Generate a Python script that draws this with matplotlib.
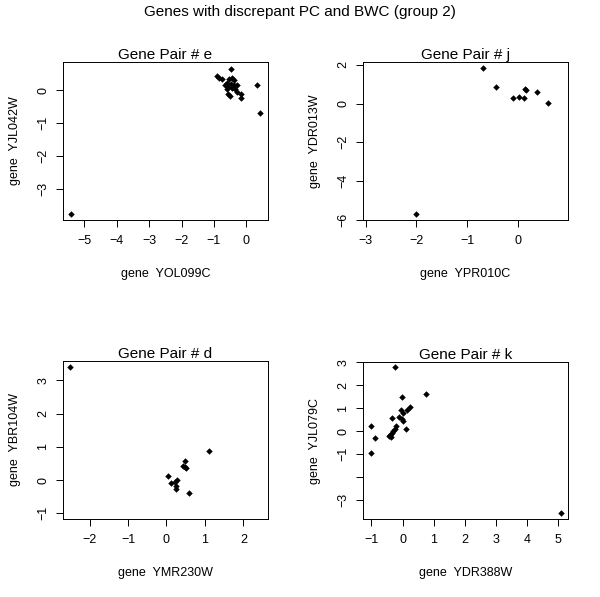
import matplotlib
matplotlib.use("Agg")
import matplotlib.pyplot as plt

plt.rcParams['font.family'] = ['Liberation Sans', 'DejaVu Sans']

# panel e : YOL099C vs YJL042W
e_x = [-5.42, -0.47, -0.89, -0.83, -0.76, -0.52, -0.44, -0.39, -0.60, -0.47, -0.39, -0.65,
       -0.55, -0.44, -0.34, -0.60, -0.58, -0.50, -0.16, -0.16, 0.33, 0.43, -0.29, -0.30]
e_y = [-3.76, 0.66, 0.43, 0.37, 0.33, 0.35, 0.37, 0.30, 0.23, 0.20, 0.17, 0.15,
       0.10, 0.08, 0.05, 0.03, -0.10, -0.17, -0.10, -0.23, 0.17, -0.68, -0.05, 0.15]

# panel j : YPR010C vs YDR013W
j_x = [-2.00, -0.68, -0.43, -0.10, 0.02, 0.13, 0.14, 0.16, 0.38, 0.59]
j_y = [-5.71, 1.85, 0.86, 0.28, 0.33, 0.28, 0.76, 0.70, 0.59, 0.02]

# panel d : YMR230W vs YBR104W
d_x = [-2.51, 1.11, 0.48, 0.43, 0.47, 0.52, 0.05, 0.13, 0.21, 0.28, 0.24, 0.24, 0.59]
d_y = [3.41, 0.87, 0.56, 0.43, 0.40, 0.35, 0.13, -0.09, -0.07, 0.01, -0.17, -0.27, -0.39]

# panel k : YDR388W vs YJL079C
k_x = [5.08, -0.23, 0.75, -0.03, -1.02, -1.02, -0.88, -0.34, -0.04, 0.25, 0.14, 0.03,
       -0.10, -0.02, 0.03, 0.11, -0.20, -0.23, -0.29, -0.34, -0.40, -0.44, -0.37]
k_y = [-3.58, 2.78, 1.62, 1.49, 0.23, -0.96, -0.29, 0.58, 0.94, 1.04, 0.93, 0.78,
       0.61, 0.54, 0.44, 0.10, 0.20, 0.10, 0.00, -0.09, -0.17, -0.23, -0.26]

panels = [
    dict(letter='e', gx='YOL099C', gy='YJL042W', x=e_x, y=e_y,
         xt=[-5, -4, -3, -2, -1, 0], yt=[0, -1, -2, -3], ytl=None,
         xlim=(-5.66, 0.67), ylim=(-3.94, 0.86),
         pos=[63, 62, 268, 220]),
    dict(letter='j', gx='YPR010C', gy='YDR013W', x=j_x, y=j_y,
         xt=[-3, -2, -1, 0], yt=[2, 0, -2, -4, -6], ytl=None,
         xlim=(-3.05, 0.99), ylim=(-6.02, 2.15),
         pos=[363, 62, 568, 220]),
    dict(letter='d', gx='YMR230W', gy='YBR104W', x=d_x, y=d_y,
         xt=[-2, -1, 0, 1, 2], yt=[3, 2, 1, 0, -1], ytl=None,
         xlim=(-2.69, 2.64), ylim=(-1.17, 3.58),
         pos=[63, 361, 268, 519]),
    dict(letter='k', gx='YDR388W', gy='YJL079C', x=k_x, y=k_y,
         xt=[-1, 0, 1, 2, 3, 4, 5], yt=[3, 2, 1, 0, -1, -2, -3],
         ytl=['3', '2', '1', '0', '\u22121', '', '\u22123'],
         xlim=(-1.27, 5.32), ylim=(-3.85, 3.02),
         pos=[363, 362, 568, 519]),
]

W, H = 600, 597
fig = plt.figure(figsize=(6, 5.97), dpi=100)
fig.text(0.5, 1 - 12 / H, 'Genes with discrepant PC and BWC (group 2)',
         ha='center', va='center', fontsize=11)

for p in panels:
    l, t, r, b = p['pos']
    ax = fig.add_axes([l / W, 1 - b / H, (r - l) / W, (b - t) / H])
    ax.plot(p['x'], p['y'], 'D', color='black', markersize=3.3, markeredgewidth=0)
    ax.set_xlim(*p['xlim'])
    ax.set_ylim(*p['ylim'])
    ax.set_xticks(p['xt'])
    ax.set_yticks(p['yt'])
    if p['ytl'] is not None:
        ax.set_yticklabels(p['ytl'])
    for lab in ax.get_yticklabels():
        lab.set_rotation(90)
        lab.set_va('center')
    ax.tick_params(direction='out', length=5, width=0.7, labelsize=9, pad=5)
    ax.tick_params(axis='x', pad=6)
    for s in ax.spines.values():
        s.set_linewidth(0.7)
    ax.set_title('Gene Pair # ' + p['letter'], fontsize=11, pad=2)
    ax.set_xlabel('gene  ' + p['gx'], fontsize=9)
    ax.set_ylabel('gene  ' + p['gy'], fontsize=9)
    ax.xaxis.set_label_coords(0.5, -(54 / (b - t)))
    ax.xaxis.label.set_va('center')
    ax.yaxis.set_label_coords(-(48 / (r - l)), 0.5)
    ax.yaxis.label.set_va('center')

fig.savefig('out.png', dpi=100)
